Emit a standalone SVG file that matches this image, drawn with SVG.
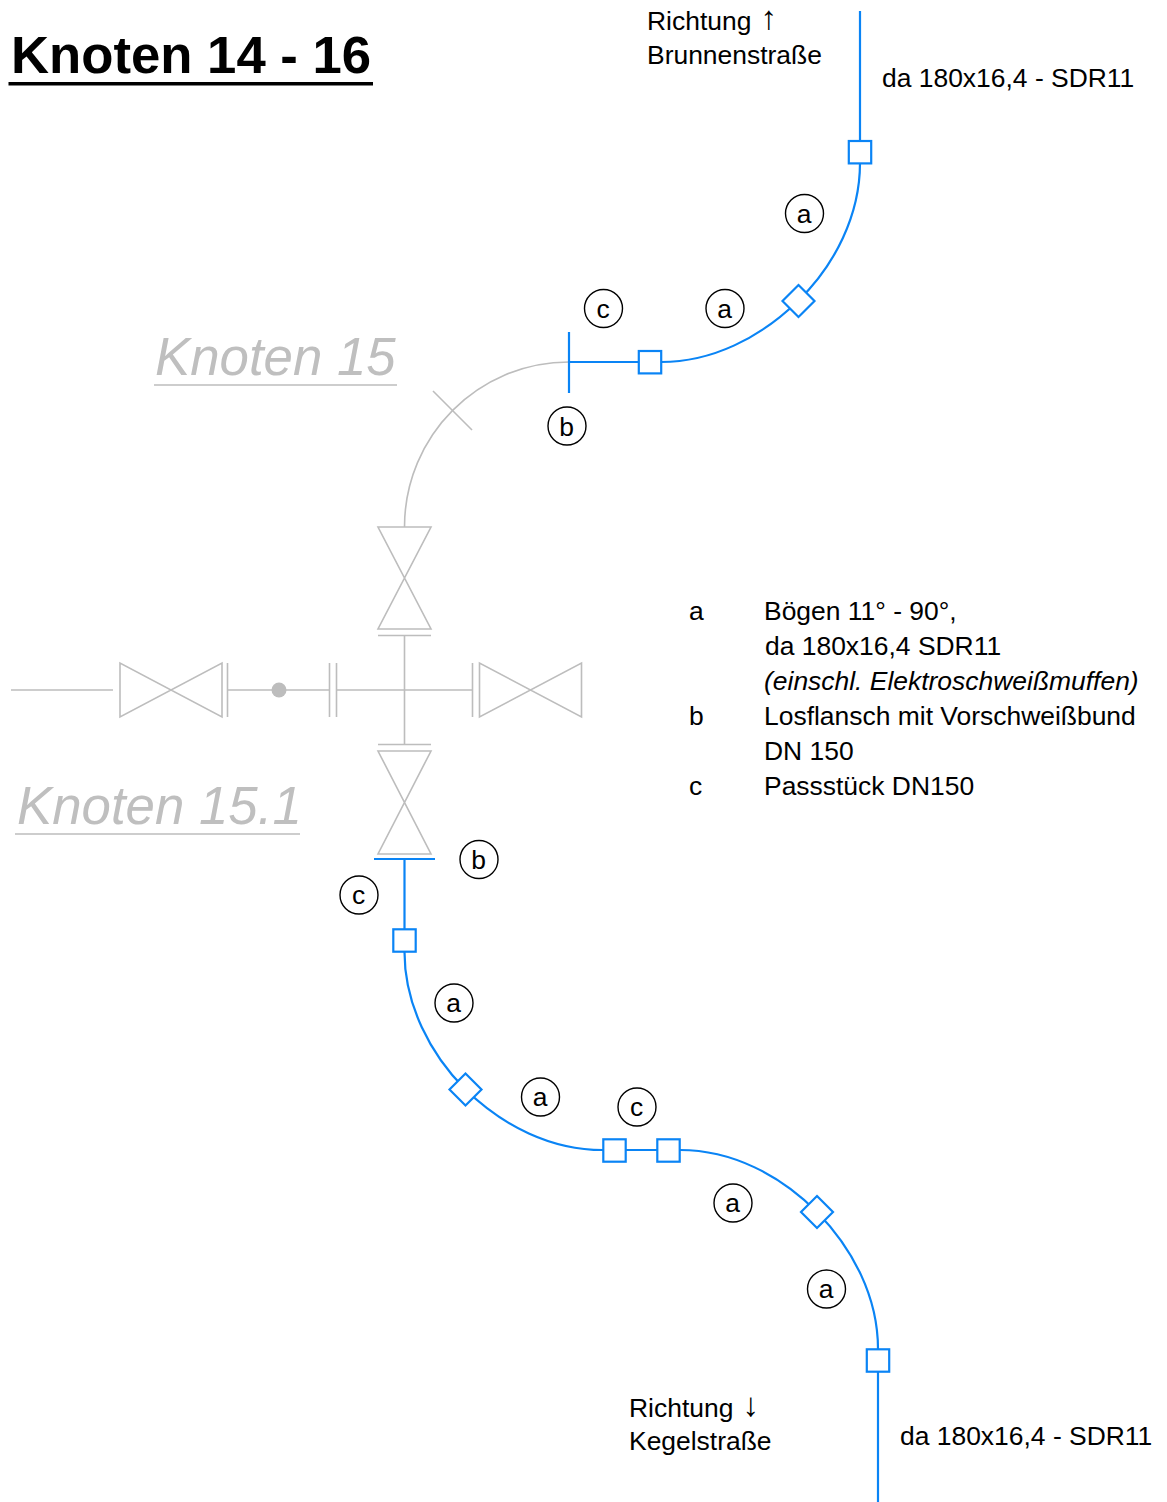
<svg xmlns="http://www.w3.org/2000/svg" width="1167" height="1502" viewBox="0 0 1167 1502">
<style>
text{font-family:"Liberation Sans",Arial,sans-serif;fill:#000}
.t{font-size:26.45px}
.a{font-size:33px}
.b{fill:none;stroke:#0a84f5;stroke-width:2.2}
.fb{fill:#fff;stroke:#0a84f5;stroke-width:2.2}
.g{fill:none;stroke:#bdbdbd;stroke-width:1.6}
.k{font-size:52.8px;font-style:italic;fill:#bfbfbf}
.c{fill:#fff;stroke:#000;stroke-width:1.4}
.l{font-size:26.45px;text-anchor:middle}
</style>
<g id="title">
<text x="11" y="73" font-size="52.7" font-weight="700">Knoten 14 - 16</text>
<rect x="8.500" y="82" width="364.500" height="3.500" fill="#000"/>
</g>
<g id="labels-grey">
<text class="k" x="155" y="375">Knoten 15</text>
<line class="g" x1="154" y1="385" x2="397" y2="385"/>
<text class="k" x="17" y="824">Knoten 15.1</text>
<line class="g" x1="15" y1="834" x2="300" y2="834"/>
</g>
<g id="connectors">
<path class="g" d="M569 362C478 362 404.500 436 404.500 527"/>
<path class="g" d="M433 391L472 430"/>
<path class="g" d="M404.500 636V744M11 690H113M228 690H329M337 690H472"/>
<path class="b" d="M860 11V141M860 163C860 215 835 265 798 301C760 338 712 362 661 362M638 362H569M569 332V393"/>
<path class="b" d="M374 859H435M404.500 859V929M404.500 952C404.500 1004 430 1054 465.500 1089.500C503 1126 551 1150 603 1150M626 1150H657M680 1150C732 1150 780 1175 817 1212C853 1249 878 1297 878 1349M878 1372V1502"/>
</g>
<g id="valve-top"><path class="g" d="M378 527H431L378 629H431ZM378 635.500H431"/></g>
<g id="valve-bottom"><path class="g" d="M378 751H431L378 854H431ZM378 744.500H431"/></g>
<g id="valve-left"><path class="g" d="M120 663V717L222 663V717ZM227.500 663V717"/></g>
<g id="valve-right"><path class="g" d="M479.500 663V717L581.500 663V717ZM472.500 663V717"/></g>
<g id="reducer"><path class="g" d="M329.500 663V717M336.500 663V717"/></g>
<g id="dot"><circle cx="279" cy="690" r="7.500" fill="#bdbdbd"/></g>
<g id="fittings">
<rect class="fb" x="848.800" y="141" width="22.400" height="22.400"/>
<rect class="fb" x="638.800" y="351" width="22.400" height="22.400"/>
<rect class="fb" x="393.300" y="929.300" width="22.400" height="22.400"/>
<rect class="fb" x="603.300" y="1139.300" width="22.400" height="22.400"/>
<rect class="fb" x="657.300" y="1139.300" width="22.400" height="22.400"/>
<rect class="fb" x="866.800" y="1349.300" width="22.400" height="22.400"/>
<path class="fb" d="M798.500 285L814.500 301L798.500 317L782.500 301Z"/>
<path class="fb" d="M465.500 1073.500L481.500 1089.500L465.500 1105.500L449.500 1089.500Z"/>
<path class="fb" d="M817 1196L833 1212L817 1228L801 1212Z"/>
</g>
<g id="tag-a1"><circle class="c" cx="804.500" cy="213.500" r="19"/><text class="l" x="804" y="223">a</text></g>
<g id="tag-a2"><circle class="c" cx="725" cy="308.500" r="19"/><text class="l" x="724.500" y="318">a</text></g>
<g id="tag-c1"><circle class="c" cx="603.500" cy="308.500" r="19"/><text class="l" x="603" y="318">c</text></g>
<g id="tag-b1"><circle class="c" cx="567" cy="426" r="19"/><text class="l" x="566.500" y="436">b</text></g>
<g id="tag-b2"><circle class="c" cx="479" cy="859.500" r="19"/><text class="l" x="478.500" y="869">b</text></g>
<g id="tag-c2"><circle class="c" cx="359" cy="895" r="19"/><text class="l" x="358.500" y="904">c</text></g>
<g id="tag-a3"><circle class="c" cx="454" cy="1003" r="19"/><text class="l" x="453.500" y="1012">a</text></g>
<g id="tag-a4"><circle class="c" cx="540.500" cy="1097" r="19"/><text class="l" x="540" y="1106">a</text></g>
<g id="tag-c3"><circle class="c" cx="637" cy="1107" r="19"/><text class="l" x="636.500" y="1116">c</text></g>
<g id="tag-a5"><circle class="c" cx="733" cy="1203" r="19"/><text class="l" x="732.500" y="1212">a</text></g>
<g id="tag-a6"><circle class="c" cx="826.500" cy="1289" r="19"/><text class="l" x="826" y="1298">a</text></g>
<g id="text-top">
<text class="t" x="647" y="30">Richtung</text><text class="a" x="760.500" y="29">↑</text>
<text class="t" x="647" y="64">Brunnenstraße</text>
<text class="t" x="882" y="87">da 180x16,4 - SDR11</text>
</g>
<g id="text-bottom">
<text class="t" x="629" y="1417">Richtung</text><text class="a" x="742.500" y="1416">↓</text>
<text class="t" x="629" y="1450">Kegelstraße</text>
<text class="t" x="900" y="1445">da 180x16,4 - SDR11</text>
</g>
<g id="legend">
<text class="t" x="689" y="620">a</text><text class="t" x="764" y="620">Bögen 11° - 90°,</text>
<text class="t" x="765" y="655">da 180x16,4 SDR11</text>
<text class="t" x="764" y="690" font-style="italic">(einschl. Elektroschweißmuffen)</text>
<text class="t" x="689" y="725">b</text><text class="t" x="764" y="725">Losflansch mit Vorschweißbund</text>
<text class="t" x="764" y="760">DN 150</text>
<text class="t" x="689" y="795">c</text><text class="t" x="764" y="795">Passstück DN150</text>
</g>
</svg>
